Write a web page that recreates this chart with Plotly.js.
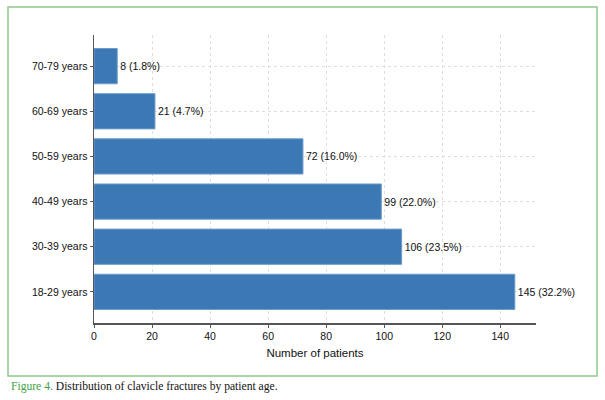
<!DOCTYPE html>
<html>
<head>
<meta charset="utf-8">
<script src="https://cdn.plot.ly/plotly-3.0.1.min.js"></script>
<style>
  body { margin: 0; background: #fff; }
  #chart { width: 605px; height: 400px; }
</style>
</head>
<body>
<div id="chart"></div>
<script>
const ageGroups = ['18-29 years', '30-39 years', '40-49 years', '50-59 years', '60-69 years', '70-79 years'];
const patients = [145, 106, 99, 72, 21, 8];
const percents = ['32.2%', '23.5%', '22.0%', '16.0%', '4.7%', '1.8%'];
const xTicks = [0, 20, 40, 60, 80, 100, 120, 140];

const labels = patients.map((n, i) => n + ' (' + percents[i] + ')');

const trace = {
    type: 'bar',
    orientation: 'h',
    x: patients,
    y: ageGroups,
    text: labels,
    textposition: 'outside',
    cliponaxis: false,
    textfont: { family: 'Liberation Sans, Arial, sans-serif', size: 10.5, color: '#111' },
    marker: { color: '#3b78b4', line: { color: '#6a9ccd', width: 1 } },
    width: 0.78,
    hoverinfo: 'none',
};

// plot area in pixels: x 94..536, y 35..323
const L = 94, R = 536, T = 35, B = 323;
const px = v => (v - L) / (R - L);
const py = v => (B - v) / (B - T);

const layout = {
    width: 605,
    height: 400,
    margin: { l: L, r: 605 - R, t: T, b: 400 - B },
    paper_bgcolor: '#fff',
    plot_bgcolor: '#fff',
    font: { family: 'Liberation Sans, Arial, sans-serif', size: 10.5, color: '#111' },
    showlegend: false,
    bargap: 0.2,
    xaxis: {
        range: [0, 152.3],
        tickvals: xTicks,
        showgrid: true,
        gridcolor: '#dedede',
        griddash: 'dot',
        zeroline: false,
        showline: true,
        linecolor: '#555',
        linewidth: 1.5,
        ticks: 'outside',
        ticklen: 3,
        tickcolor: '#555',
        title: { text: 'Number of patients', font: { size: 11.5 }, standoff: 8 },
    },
    yaxis: {
        range: [-0.69, 5.69],
        showgrid: true,
        gridcolor: '#dedede',
        griddash: 'dot',
        zeroline: false,
        showline: true,
        linecolor: '#555',
        linewidth: 1.5,
        ticks: 'outside',
        ticklen: 3,
        tickcolor: '#555',
        ticklabelstandoff: 0,
    },
    shapes: [{
        type: 'rect',
        xref: 'paper', yref: 'paper',
        x0: px(8), x1: px(597), y0: py(376), y1: py(7),
        line: { color: '#8fc98a', width: 1.5 },
        fillcolor: 'rgba(0,0,0,0)',
    }],
    annotations: [{
        xref: 'paper', yref: 'paper',
        x: px(9), y: py(386.5),
        xanchor: 'left', yanchor: 'middle',
        showarrow: false,
        align: 'left',
        text: '<span style="color:#3e9f45">Figure 4.</span> Distribution of clavicle fractures by patient age.',
        font: { family: 'Liberation Serif, Times New Roman, serif', size: 11.6, color: '#111' },
    }],
};

Plotly.newPlot('chart', [trace], layout, { displayModeBar: false, staticPlot: true });
</script>
</body>
</html>
